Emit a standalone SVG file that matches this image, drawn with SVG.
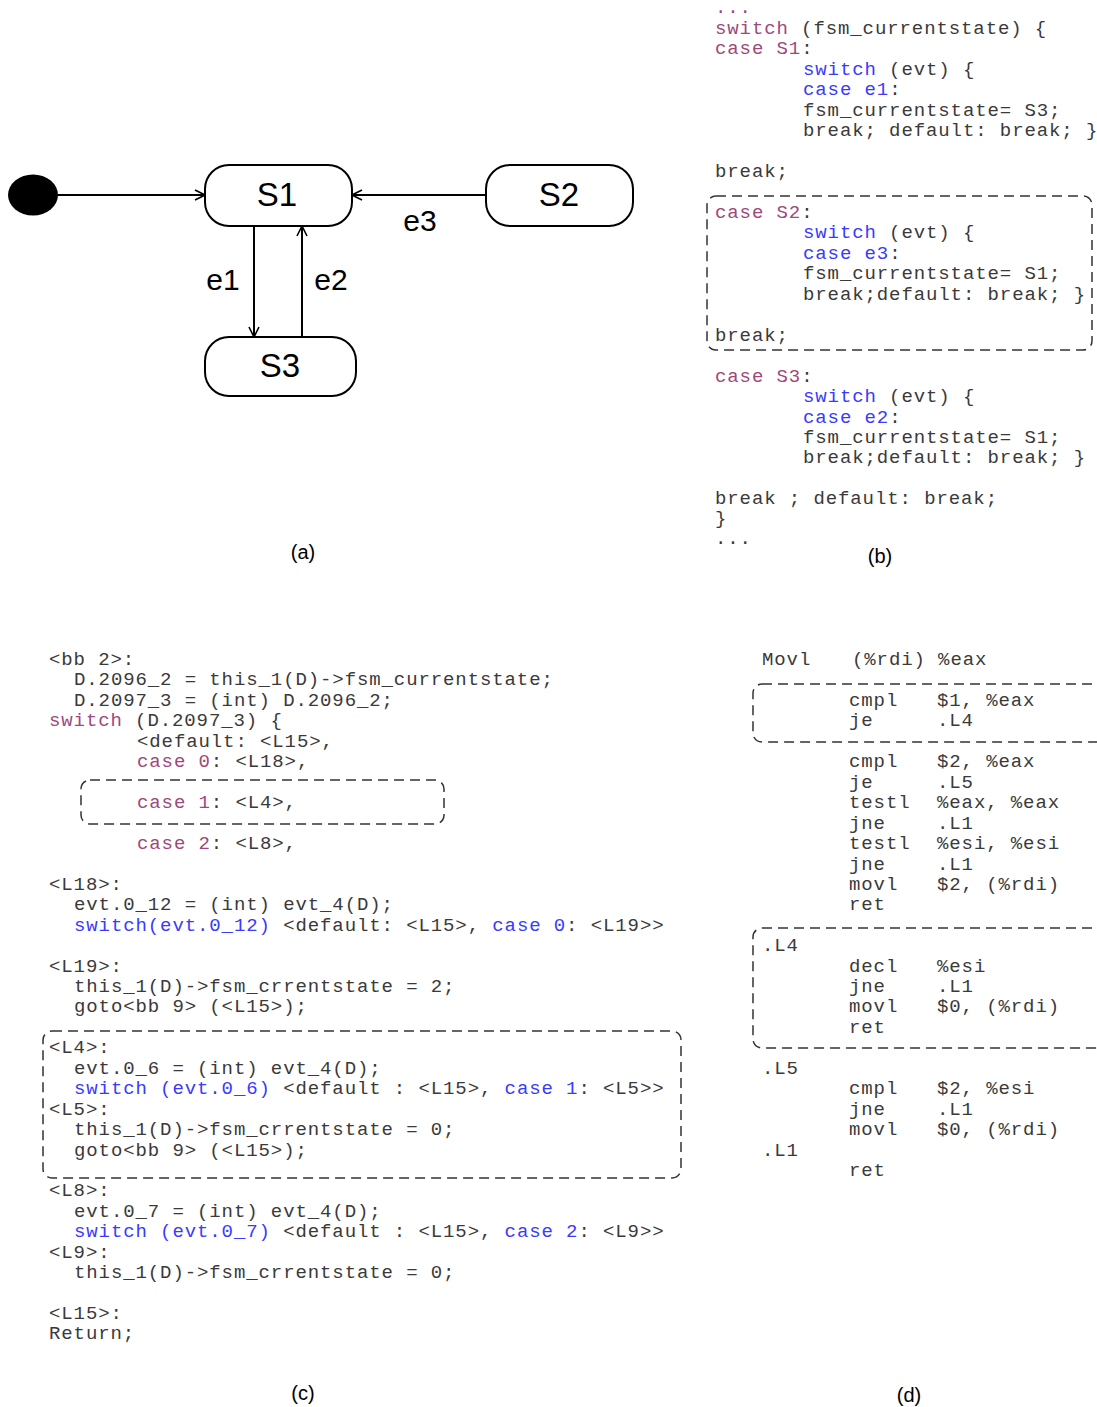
<svg xmlns="http://www.w3.org/2000/svg" width="1097" height="1407" viewBox="0 0 1097 1407">
  <style>
    .code { font-family: "Liberation Mono", "Courier New", monospace; font-size: 19px; letter-spacing: 0.9px; fill: #3a3a3a; white-space: pre; }
    .kw { fill: #a0487a; }
    .bl { fill: #3a3aff; }
    .state { fill: #fff; stroke: #000; stroke-width: 2; }
    .slabel { font-family: "Liberation Sans", Arial, sans-serif; font-size: 33px; fill: #000; text-anchor: middle; }
    .elabel { font-family: "Liberation Sans", Arial, sans-serif; font-size: 30px; fill: #000; text-anchor: middle; }
    .cap { font-family: "Liberation Sans", Arial, sans-serif; font-size: 20px; fill: #000; text-anchor: middle; }
    .edge { stroke: #000; stroke-width: 2; fill: none; marker-end: url(#arr); }
    .dash { fill: none; stroke: #333; stroke-width: 1.5; stroke-dasharray: 10 6; }
  </style>
  <defs>
    <marker id="arr" viewBox="0 0 12 12" refX="11" refY="6" markerWidth="12" markerHeight="12" markerUnits="userSpaceOnUse" orient="auto">
      <path d="M1,1 L11,6 L1,11" fill="none" stroke="#000" stroke-width="1.6"/>
    </marker>
  </defs>
  <rect width="1097" height="1407" fill="#fff"/>

  <!-- (a) state machine -->
  <g id="connectors">
    <line class="edge" x1="58" y1="195" x2="205" y2="195"/>
    <line class="edge" x1="486" y1="195" x2="352" y2="195"/>
    <line class="edge" x1="254" y1="226" x2="254" y2="337"/>
    <line class="edge" x1="302" y1="337" x2="302" y2="226"/>
    <text class="elabel" x="420" y="231">e3</text>
    <text class="elabel" x="223" y="290">e1</text>
    <text class="elabel" x="331" y="290">e2</text>
  </g>
  <g id="initial">
    <ellipse cx="33" cy="195" rx="25" ry="20.5" fill="#000"/>
  </g>
  <g id="S1">
    <rect class="state" x="205" y="165" width="147" height="61" rx="24"/>
    <text class="slabel" x="277" y="206">S1</text>
  </g>
  <g id="S2">
    <rect class="state" x="486" y="165" width="147" height="61" rx="24"/>
    <text class="slabel" x="559" y="206">S2</text>
  </g>
  <g id="S3">
    <rect class="state" x="205" y="337" width="151" height="59" rx="24"/>
    <text class="slabel" x="280" y="377">S3</text>
  </g>
  <text class="cap" x="303" y="559">(a)</text>

  <!-- (b) source switch -->
  <g id="src" transform="translate(0,1)">
    <text class="code kw" x="715" y="12">...</text>
    <text class="code" x="715" y="33"><tspan class="kw">switch</tspan> (fsm_currentstate) {</text>
    <text class="code" x="715" y="53"><tspan class="kw">case S1</tspan>:</text>
    <text class="code" x="803" y="74"><tspan class="bl">switch</tspan> (evt) {</text>
    <text class="code" x="803" y="94"><tspan class="bl">case e1</tspan>:</text>
    <text class="code" x="803" y="115">fsm_currentstate= S3;</text>
    <text class="code" x="803" y="135">break; default: break; }</text>
    <text class="code" x="715" y="176">break;</text>
    <rect class="dash" x="707" y="195" width="385" height="154" rx="9"/>
    <text class="code" x="715" y="217"><tspan class="kw">case S2</tspan>:</text>
    <text class="code" x="803" y="237"><tspan class="bl">switch</tspan> (evt) {</text>
    <text class="code" x="803" y="258"><tspan class="bl">case e3</tspan>:</text>
    <text class="code" x="803" y="278">fsm_currentstate= S1;</text>
    <text class="code" x="803" y="299">break;default: break; }</text>
    <text class="code" x="715" y="340">break;</text>
    <text class="code" x="715" y="381"><tspan class="kw">case S3</tspan>:</text>
    <text class="code" x="803" y="401"><tspan class="bl">switch</tspan> (evt) {</text>
    <text class="code" x="803" y="422"><tspan class="bl">case e2</tspan>:</text>
    <text class="code" x="803" y="442">fsm_currentstate= S1;</text>
    <text class="code" x="803" y="462">break;default: break; }</text>
    <text class="code" x="715" y="503">break ; default: break;</text>
    <text class="code" x="715" y="523">}</text>
    <text class="code" x="715" y="543">...</text>
  </g>
  <text class="cap" x="880" y="563">(b)</text>

  <!-- (c) GIMPLE -->
  <g id="gimple" transform="translate(0,1)">
    <text class="code" x="49" y="664">&lt;bb 2&gt;:</text>
    <text class="code" x="74" y="684">D.2096_2 = this_1(D)-&gt;fsm_currentstate;</text>
    <text class="code" x="74" y="705">D.2097_3 = (int) D.2096_2;</text>
    <text class="code" x="49" y="725"><tspan class="kw">switch</tspan> (D.2097_3) {</text>
    <text class="code" x="137" y="746">&lt;default: &lt;L15&gt;,</text>
    <text class="code" x="137" y="766"><tspan class="kw">case 0</tspan>: &lt;L18&gt;,</text>
    <rect class="dash" x="81" y="779" width="363" height="44" rx="9"/>
    <text class="code" x="137" y="807"><tspan class="kw">case 1</tspan>: &lt;L4&gt;,</text>
    <text class="code" x="137" y="848"><tspan class="kw">case 2</tspan>: &lt;L8&gt;,</text>
    <text class="code" x="49" y="889">&lt;L18&gt;:</text>
    <text class="code" x="74" y="909">evt.0_12 = (int) evt_4(D);</text>
    <text class="code" x="74" y="930"><tspan class="bl">switch(evt.0_12)</tspan> &lt;default: &lt;L15&gt;, <tspan class="bl">case 0</tspan>: &lt;L19&gt;&gt;</text>
    <text class="code" x="49" y="971">&lt;L19&gt;:</text>
    <text class="code" x="74" y="991">this_1(D)-&gt;fsm_crrentstate = 2;</text>
    <text class="code" x="74" y="1011">goto&lt;bb 9&gt; (&lt;L15&gt;);</text>
    <rect class="dash" x="43" y="1030" width="638" height="147" rx="9"/>
    <text class="code" x="49" y="1052">&lt;L4&gt;:</text>
    <text class="code" x="74" y="1073">evt.0_6 = (int) evt_4(D);</text>
    <text class="code" x="74" y="1093"><tspan class="bl">switch (evt.0_6)</tspan> &lt;default : &lt;L15&gt;, <tspan class="bl">case 1</tspan>: &lt;L5&gt;&gt;</text>
    <text class="code" x="49" y="1114">&lt;L5&gt;:</text>
    <text class="code" x="74" y="1134">this_1(D)-&gt;fsm_crrentstate = 0;</text>
    <text class="code" x="74" y="1155">goto&lt;bb 9&gt; (&lt;L15&gt;);</text>
    <text class="code" x="49" y="1195">&lt;L8&gt;:</text>
    <text class="code" x="74" y="1216">evt.0_7 = (int) evt_4(D);</text>
    <text class="code" x="74" y="1236"><tspan class="bl">switch (evt.0_7)</tspan> &lt;default : &lt;L15&gt;, <tspan class="bl">case 2</tspan>: &lt;L9&gt;&gt;</text>
    <text class="code" x="49" y="1257">&lt;L9&gt;:</text>
    <text class="code" x="74" y="1277">this_1(D)-&gt;fsm_crrentstate = 0;</text>
    <text class="code" x="49" y="1318">&lt;L15&gt;:</text>
    <text class="code" x="49" y="1338">Return;</text>
  </g>
  <text class="cap" x="303" y="1400">(c)</text>

  <!-- (d) assembly -->
  <g id="asm" transform="translate(0,1)">
    <text class="code" x="762" y="664">Movl</text><text class="code" x="852" y="664">(%rdi) %eax</text>
    <rect class="dash" x="753" y="683" width="360" height="58" rx="9"/>
    <text class="code" x="849" y="705">cmpl</text><text class="code" x="937" y="705">$1, %eax</text>
    <text class="code" x="849" y="725">je</text><text class="code" x="937" y="725">.L4</text>
    <text class="code" x="849" y="766">cmpl</text><text class="code" x="937" y="766">$2, %eax</text>
    <text class="code" x="849" y="787">je</text><text class="code" x="937" y="787">.L5</text>
    <text class="code" x="849" y="807">testl</text><text class="code" x="937" y="807">%eax, %eax</text>
    <text class="code" x="849" y="828">jne</text><text class="code" x="937" y="828">.L1</text>
    <text class="code" x="849" y="848">testl</text><text class="code" x="937" y="848">%esi, %esi</text>
    <text class="code" x="849" y="869">jne</text><text class="code" x="937" y="869">.L1</text>
    <text class="code" x="849" y="889">movl</text><text class="code" x="937" y="889">$2, (%rdi)</text>
    <text class="code" x="849" y="909">ret</text>
    <rect class="dash" x="753" y="927" width="360" height="120" rx="9"/>
    <text class="code" x="762" y="950">.L4</text>
    <text class="code" x="849" y="971">decl</text><text class="code" x="937" y="971">%esi</text>
    <text class="code" x="849" y="991">jne</text><text class="code" x="937" y="991">.L1</text>
    <text class="code" x="849" y="1011">movl</text><text class="code" x="937" y="1011">$0, (%rdi)</text>
    <text class="code" x="849" y="1032">ret</text>
    <text class="code" x="762" y="1073">.L5</text>
    <text class="code" x="849" y="1093">cmpl</text><text class="code" x="937" y="1093">$2, %esi</text>
    <text class="code" x="849" y="1114">jne</text><text class="code" x="937" y="1114">.L1</text>
    <text class="code" x="849" y="1134">movl</text><text class="code" x="937" y="1134">$0, (%rdi)</text>
    <text class="code" x="762" y="1155">.L1</text>
    <text class="code" x="849" y="1175">ret</text>
  </g>
  <text class="cap" x="909" y="1402">(d)</text>
</svg>
